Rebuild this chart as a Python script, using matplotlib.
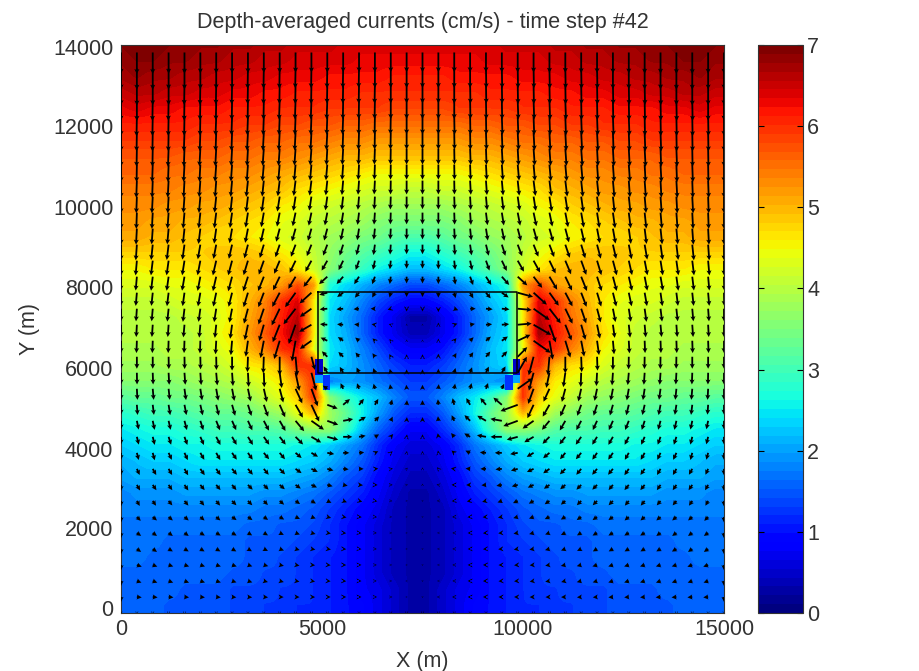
import numpy as np
import matplotlib
matplotlib.use("Agg")
import matplotlib.pyplot as plt
from matplotlib.patches import Rectangle
from matplotlib.transforms import ScaledTranslation

plt.rcParams['font.family'] = ['Liberation Sans', 'DejaVu Sans']

# speed, in tenths of cm/s, top row first
speed_rows = [
    [69,70,70,69,69,68,68,67,67,66,66,65,65,65,64,64,64,64,64, 64,64,64,64,64,65,65,65,66,66,67,67,68,68,69,69,70,70,69],
    [68,69,69,68,68,67,67,66,66,65,65,64,64,64,64,63,63,63,63, 63,63,63,63,64,64,64,64,65,65,66,66,67,67,68,68,69,69,68],
    [67,68,67,67,66,66,65,65,64,64,63,63,63,62,62,62,62,61,61, 61,61,62,62,62,62,63,63,63,64,64,65,65,66,66,67,67,68,67],
    [65,66,66,65,65,64,64,63,63,62,62,61,61,61,61,60,60,60,60, 60,60,60,60,61,61,61,61,62,62,63,63,64,64,65,65,66,66,65],
    [63,64,63,63,62,62,62,61,61,61,60,60,60,59,59,59,59,58,58, 58,58,59,59,59,59,60,60,60,61,61,61,62,62,62,63,63,64,63],
    [61,61,61,61,61,60,60,60,59,59,58,58,57,57,56,56,55,55,55, 55,55,55,56,56,57,57,58,58,59,59,60,60,60,61,61,61,61,61],
    [59,59,59,59,59,58,58,57,57,56,56,55,55,54,53,53,52,52,52, 52,52,52,53,53,54,55,55,56,56,57,57,58,58,59,59,59,59,59],
    [57,57,57,57,56,56,56,55,55,54,54,53,52,51,50,50,49,49,49, 49,49,49,50,50,51,52,53,54,54,55,55,56,56,56,57,57,57,57],
    [56,56,56,55,55,54,54,53,53,52,51,50,49,48,47,46,45,45,45, 45,45,45,46,47,48,49,50,51,52,53,53,54,54,55,55,56,56,56],
    [54,54,54,54,53,53,52,52,51,50,49,47,46,45,44,43,42,42,41, 41,42,42,43,44,45,46,47,49,50,51,52,52,53,53,54,54,54,54],
    [53,53,53,52,52,51,51,50,49,48,46,45,43,42,41,40,39,38,38, 38,38,39,40,41,42,43,45,46,48,49,50,51,51,52,52,53,53,53],
    [52,52,51,51,50,50,49,48,47,46,44,43,41,40,39,38,36,35,35, 35,35,36,38,39,40,41,43,44,46,47,48,49,50,50,51,51,52,52],
    [51,51,50,50,49,48,47,47,46,45,43,42,40,38,37,35,34,32,31, 31,32,34,35,37,38,40,42,43,45,46,47,47,48,49,50,50,51,51],
    [48,48,48,48,48,48,49,49,49,48,46,44,41,37,34,32,30,28,26, 26,28,30,32,34,37,41,44,46,48,49,49,49,48,48,48,48,48,48],
    [45,45,46,46,46,47,48,49,50,50,49,46,42,36,32,29,26,24,22, 22,24,26,29,32,36,42,46,49,50,50,49,48,47,46,46,46,45,45],
    [43,43,43,44,44,45,46,47,49,50,52,58,52,27,24,21,18,16,14, 14,16,18,21,24,27,52,58,52,50,49,47,46,45,44,44,43,43,43],
    [41,41,41,42,43,43,44,46,50,54,60,64,46,25,22,18,14,11, 9,  9,11,14,18,22,25,46,64,60,54,50,46,44,43,43,42,41,41,41],
    [40,40,40,40,41,42,43,46,51,55,61,66,46,24,20,16,11, 7, 3,  3, 7,11,16,20,24,46,66,61,55,51,46,43,42,41,40,40,40,40],
    [40,40,40,40,40,41,44,47,52,57,62,68,46,24,21,16,11, 7, 4,  4, 7,11,16,21,24,46,68,62,57,52,47,44,41,40,40,40,40,40],
    [39,39,39,40,40,41,43,45,50,54,60,62,44,25,22,18,14,10, 8,  8,10,14,18,22,25,44,62,60,54,50,45,43,41,40,40,39,39,39],
    [38,38,38,39,39,40,41,43,46,47,50,60,60,24,22,19,16,13,11, 11,13,16,19,22,24,60,60,50,47,46,43,41,40,39,39,38,38,38],
    [36,36,36,36,37,38,39,40,42,44,46,52,60,18,20,19,17,15,13, 13,15,17,19,20,18,60,52,46,44,42,40,39,38,37,36,36,36,36],
    [32,33,33,34,34,35,36,37,38,41,44,48,60,36,29,25,22,18,15, 15,18,22,25,29,36,60,48,44,41,38,37,36,35,34,34,33,33,32],
    [28,29,30,30,31,32,33,33,34,36,38,44,50,38,33,26,20,15,12, 12,15,20,26,33,38,50,44,38,36,34,33,33,32,31,30,30,29,28],
    [25,26,27,27,28,29,30,30,31,31,32,35,37,37,30,22,16,12, 8,  8,12,16,22,30,37,37,35,32,31,31,30,30,29,28,27,27,26,25],
    [23,24,25,25,26,26,27,27,27,27,27,26,25,23,20,17,12, 8, 6,  6, 8,12,17,20,23,25,26,27,27,27,27,27,26,26,25,25,24,23],
    [21,22,23,23,24,25,25,25,25,25,25,24,23,21,18,15,11, 7, 5,  5, 7,11,15,18,21,23,24,25,25,25,25,25,25,24,23,23,22,21],
    [20,21,21,21,22,22,22,22,22,22,22,21,20,18,15,13, 9, 6, 4,  4, 6, 9,13,15,18,20,21,22,22,22,22,22,22,22,21,21,21,20],
    [18,19,19,19,20,20,20,20,20,19,19,18,17,15,13,11, 8, 5, 3,  3, 5, 8,11,13,15,17,18,19,19,20,20,20,20,20,19,19,19,18],
    [18,18,18,18,18,18,18,18,18,17,17,16,15,13,11, 9, 7, 4, 3,  3, 4, 7, 9,11,13,15,16,17,17,18,18,18,18,18,18,18,18,18],
    [17,17,17,17,17,17,17,17,16,16,15,15,14,12,10, 8, 6, 4, 3,  3, 4, 6, 8,10,12,14,15,15,16,16,17,17,17,17,17,17,17,17],
    [17,17,17,16,16,16,16,16,15,15,15,14,13,12,10, 8, 6, 4, 3,  3, 4, 6, 8,10,12,13,14,15,15,15,16,16,16,16,16,17,17,17],
    [17,17,16,16,16,16,16,16,15,15,14,13,12,11,10, 8, 6, 4, 3,  3, 4, 6, 8,10,11,12,13,14,15,15,16,16,16,16,16,16,17,17],
    [16,16,16,16,16,16,16,15,15,14,14,13,12,11,10, 8, 6, 4, 3,  3, 4, 6, 8,10,11,12,13,14,14,15,15,16,16,16,16,16,16,16],
    [16,16,16,16,15,15,15,14,14,14,13,13,12,11,10, 8, 7, 5, 3,  3, 5, 7, 8,10,11,12,13,13,14,14,14,15,15,15,16,16,16,16],
    [16,16,16,15,15,15,15,14,14,13,13,12,12,11,10, 9, 7, 5, 3,  3, 5, 7, 9,10,11,12,12,13,13,14,14,15,15,15,15,16,16,16],
]

# arrow direction in degrees: 0 = south, + towards east, - towards west, 180 = north
direction_rows = [
    [0,0,0,0,0,0,0,0,0,0,0,0,0,0,0,0,0,0,0, 0, 0,0,0,0,0,0,0,0,0,0,0,0,0,0,0,0,0,0,0],
    [0,0,0,0,0,0,0,0,-1,-1,-1,-1,-1,-1,-1,-1,0,0,0, 0, 0,0,0,1,1,1,1,1,1,1,1,0,0,0,0,0,0,0,0],
    [0,0,0,0,-1,-1,-1,-1,-1,-1,-1,-1,-1,-1,-1,-1,-1,0,0, 0, 0,0,1,1,1,1,1,1,1,1,1,1,1,1,1,0,0,0,0],
    [0,0,-1,-1,-1,-1,-1,-1,-1,-1,-2,-2,-2,-2,-1,-1,-1,0,0, 0, 0,0,1,1,1,2,2,2,2,1,1,1,1,1,1,1,1,0,0],
    [0,-1,-1,-1,-1,-1,-2,-2,-2,-2,-2,-2,-2,-2,-2,-1,-1,-1,0, 0, 0,1,1,1,2,2,2,2,2,2,2,2,2,1,1,1,1,1,0],
    [0,-1,-1,-1,-2,-2,-2,-2,-3,-3,-3,-3,-3,-3,-2,-2,-1,-1,0, 0, 0,1,1,2,2,3,3,3,3,3,3,2,2,2,2,1,1,1,0],
    [0,-1,-1,-2,-2,-3,-3,-3,-3,-4,-4,-4,-4,-3,-3,-2,-2,-1,0, 0, 0,1,2,2,3,3,4,4,4,4,3,3,3,3,2,2,1,1,0],
    [0,-1,-2,-2,-3,-3,-4,-4,-4,-5,-5,-5,-5,-5,-4,-3,-2,-1,0, 0, 0,1,2,3,4,5,5,5,5,5,4,4,4,3,3,2,2,1,0],
    [0,-2,-2,-3,-3,-4,-4,-5,-6,-6,-7,-7,-7,-6,-5,-4,-3,-1,0, 0, 0,1,3,4,5,6,7,7,7,6,6,5,4,4,3,3,2,2,0],
    [0,-2,-3,-3,-4,-5,-6,-6,-7,-8,-9,-9,-9,-8,-7,-5,-3,-2,0, 0, 0,2,3,5,7,8,9,9,9,8,7,6,6,5,4,3,3,2,0],
    [0,-2,-3,-4,-5,-6,-7,-8,-9,-10,-11,-12,-12,-11,-9,-7,-4,-2,0, 0, 0,2,4,7,9,11,12,12,11,10,9,8,7,6,5,4,3,2,0],
    [0,-3,-4,-5,-6,-7,-8,-10,-11,-13,-15,-16,-16,-15,-12,-9,-6,-3,0, 0, 0,3,6,9,12,15,16,16,15,13,11,10,8,7,6,5,4,3,0],
    [0,-4,-6,-7,-8,-10,-11,-13,-15,-17,-19,-21,-22,-21,-18,-14,-8,-4,0, 0, 0,4,8,14,18,21,22,21,19,17,15,13,11,10,8,7,6,4,0],
    [0,-5,-7,-8,-9,-11,-13,-15,-17,-20,-23,-26,-29,-30,-26,-20,-12,-6,0, 0, 0,6,12,20,26,30,29,26,23,20,17,15,13,11,9,8,7,5,0],
    [-1,-5,-7,-8,-10,-11,-13,-15,-18,-22,-26,-31,-38,-48,-42,-33,-20,-8,0, 0, 0,8,20,33,42,48,38,31,26,22,18,15,13,11,10,8,7,5,1],
    [-1,-5,-6,-7,-8,-10,-12,-14,-17,-21,-28,-36,-48,-75,-55,-40,-30,-15,0, 0, 0,15,30,40,55,75,48,36,28,21,17,14,12,10,8,7,6,5,1],
    [0,-4,-5,-6,-7,-8,-9,-11,-15,-19,-26,-38,-55,-85,-85,-85,-90,-70,0, 0, 0,70,90,85,85,85,55,38,26,19,15,11,9,8,7,6,5,4,0],
    [0,-3,-4,-4,-5,-5,-6,-8,-12,-16,-22,-20,-60,-95,-95,-95,-100,-110,180, 180, 180,110,100,95,95,95,60,20,22,16,12,8,6,5,5,4,4,3,0],
    [0,-2,-2,-2,-2,-2,-3,-5,-8,-11,-17,-10,-55,-115,-125,-130,-135,-140,180, 180, 180,140,135,130,125,115,55,10,17,11,8,5,3,2,2,2,2,2,0],
    [0,0,0,1,1,1,1,0,-2,-2,0,5,15,-135,-135,-140,-145,-150,180, 180, 180,150,145,140,135,135,-15,-5,0,2,2,0,-1,-1,-1,-1,0,0,0],
    [0,1,2,3,4,4,5,4,3,2,8,12,15,-150,-150,-155,-160,-165,180, 180, 180,165,160,155,150,150,-15,-12,-8,-2,-3,-4,-5,-4,-4,-3,-2,-1,0],
    [0,3,5,6,8,9,10,11,12,13,15,25,20,-125,-155,-160,-165,-170,-175, 180, 175,170,165,160,155,125,-20,-25,-15,-13,-12,-11,-10,-9,-8,-6,-5,-3,0],
    [0,4,7,9,11,13,14,16,18,20,24,30,25,70,130,140,150,165,175, 180, -175,-165,-150,-140,-130,-70,-25,-30,-24,-20,-18,-16,-14,-13,-11,-9,-7,-4,0],
    [0,12,12,13,15,18,22,24,25,28,30,40,55,70,100,120,135,155,175, 180, -175,-155,-135,-120,-100,-70,-55,-40,-30,-28,-25,-24,-22,-18,-15,-13,-12,-12,0],
    [0,14,14,18,20,24,28,30,32,35,38,45,60,75,90,100,120,140,170, 180, -170,-140,-120,-100,-90,-75,-60,-45,-38,-35,-32,-30,-28,-24,-20,-18,-14,-14,0],
    [0,15,15,25,25,30,30,35,35,40,40,50,60,80,90,95,115,130,170, 180, -170,-130,-115,-95,-90,-80,-60,-50,-40,-40,-35,-35,-30,-30,-25,-25,-15,-15,0],
    [0,25,30,30,30,35,35,40,40,40,45,55,65,75,85,90,95,100,140, 180, -140,-100,-95,-90,-85,-75,-65,-55,-45,-40,-40,-40,-35,-35,-30,-30,-30,-25,0],
    [0,30,35,35,35,40,40,40,45,45,50,55,65,75,80,85,88,90,100, 180, -100,-90,-88,-85,-80,-75,-65,-55,-50,-45,-45,-40,-40,-40,-35,-35,-35,-30,0],
    [0,30,35,40,40,40,40,45,45,45,50,55,60,65,70,75,80,85,90, 0, -90,-85,-80,-75,-70,-65,-60,-55,-50,-45,-45,-45,-40,-40,-40,-40,-35,-30,0],
    [0,45,50,50,50,50,50,55,55,55,60,65,70,75,80,85,85,88,90, 0, -90,-88,-85,-85,-80,-75,-70,-65,-60,-55,-55,-55,-50,-50,-50,-50,-50,-45,0],
    [0,55,55,55,55,60,60,60,60,60,65,70,75,80,85,85,88,90,90, 0, -90,-90,-88,-85,-85,-80,-75,-70,-65,-60,-60,-60,-60,-60,-55,-55,-55,-55,0],
    [0,55,55,60,60,60,60,60,60,65,70,75,80,80,85,85,88,90,90, 0, -90,-90,-88,-85,-85,-80,-80,-75,-70,-65,-60,-60,-60,-60,-60,-60,-55,-55,0],
    [0,70,70,72,72,72,72,72,72,75,78,80,85,85,88,90,90,90,90, 0, -90,-90,-90,-90,-88,-85,-85,-80,-78,-75,-72,-72,-72,-72,-72,-72,-70,-70,0],
    [0,70,70,70,70,72,72,72,72,75,75,80,80,85,85,88,90,90,90, 0, -90,-90,-90,-88,-85,-85,-80,-80,-75,-75,-72,-72,-72,-72,-70,-70,-70,-70,0],
    [0,85,85,85,85,85,85,85,85,85,88,88,88,90,90,90,90,90,90, 0, -90,-90,-90,-90,-90,-90,-88,-88,-88,-85,-85,-85,-85,-85,-85,-85,-85,-85,0],
    [0,0,0,0,0,0,0,0,0,0,0,0,0,0,0,0,0,0,0, 0, 0,0,0,0,0,0,0,0,0,0,0,0,0,0,0,0,0,0,0],
]

bottom_row_speed = 0.5

# the two piers at the gate, cells that the coarse grid misses
pier_x = [4826, 5025, 4826, 9751, 9552, 9751]
pier_w = [199, 175, 199, 174, 199, 174]
pier_y = [5866, 5496, 5669, 5866, 5496, 5669]
pier_h = [394, 370, 197, 394, 370, 197]
pier_val = [0.5, 1.3, 2.0, 0.5, 1.3, 2.0]

basin_x = [4900, 9850, 9850, 4900, 4900]
basin_y = [7900, 7900, 5925, 5925, 7900]

y_tick_values = [0, 2000, 4000, 6000, 8000, 10000, 12000, 14000]
y_tick_shift = [5, 4, 2, 2, 1, 0, 0, -2]  # pixels up, labels sit off their ticks

speed = np.array(speed_rows) / 10.0
direction = np.radians(np.array(direction_rows))

# arrow grid: 39 columns, 36 rows, top row first
x_arrow = np.arange(39) * 15000 / 38
y_arrow = (35 - np.arange(36)) * 15000 / 38
X, Y = np.meshgrid(x_arrow, y_arrow)

# arrow length comes from the speed table
col = np.clip(np.round(x_arrow / 400).astype(int), 0, 37)
mag = speed[:, col]
mag[-1, :] = bottom_row_speed
U = mag * np.sin(direction)
V = -mag * np.cos(direction)

W, H = 919, 671
fig = plt.figure(figsize=(W / 100, H / 100), dpi=100)
ax = fig.add_axes([121 / W, 1 - 613 / H, 603 / W, 568 / H])
cax = fig.add_axes([758 / W, 1 - 613 / H, 45 / W, 568 / H])

cmap = plt.get_cmap('jet', 64)
im = ax.imshow(speed, extent=[-200, 15000, -12, 14197], aspect='auto', cmap=cmap,
               vmin=0, vmax=7, interpolation='bilinear', origin='upper')

for x0, w0, y0, h0, v0 in zip(pier_x, pier_w, pier_y, pier_h, pier_val):
    ax.add_patch(Rectangle((x0, y0), w0, h0, facecolor=cmap(v0 / 7), edgecolor='none', zorder=2))

ax.quiver(X, Y, U, V, angles='xy', scale_units='xy', scale=1 / 76, pivot='tail',
          color='black', width=0.003, headwidth=2.8, headlength=2.8, headaxislength=2.4,
          minshaft=0.5, minlength=0, zorder=3)
ax.plot(basin_x, basin_y, color='black', lw=1.1, zorder=4)

ax.set_xlim(0, 15000)
ax.set_ylim(0, 14000)
ax.set_xticks([0, 5000, 10000, 15000])
ax.set_yticks(y_tick_values)
ax.tick_params(length=0, labelsize=15.5, labelcolor='#333333')
ax.tick_params(axis='x', pad=4)
ax.tick_params(axis='y', pad=5.5)
for lab, dy in zip(ax.get_yticklabels(), y_tick_shift):
    lab.set_transform(lab.get_transform() + ScaledTranslation(0, dy / 100, fig.dpi_scale_trans))
ax.set_xlabel('X (m)', fontsize=15.5, color='#333333', labelpad=8)
ax.set_ylabel('Y (m)', fontsize=15.5, color='#333333', labelpad=9)
ax.set_title('Depth-averaged currents (cm/s) - time step #42', fontsize=15.5,
             color='#333333', pad=12)
for s in ax.spines.values():
    s.set_color('#333333')
    s.set_linewidth(0.8)

cb = fig.colorbar(im, cax=cax)
cb.set_ticks(range(8))
cb.ax.tick_params(direction='in', left=True, right=True, length=4.5, width=0.8,
                  labelsize=15.5, pad=3, labelcolor='#333333')
cb.outline.set_edgecolor('#333333')
cb.outline.set_linewidth(0.8)

fig.savefig('out.png', dpi=100)
